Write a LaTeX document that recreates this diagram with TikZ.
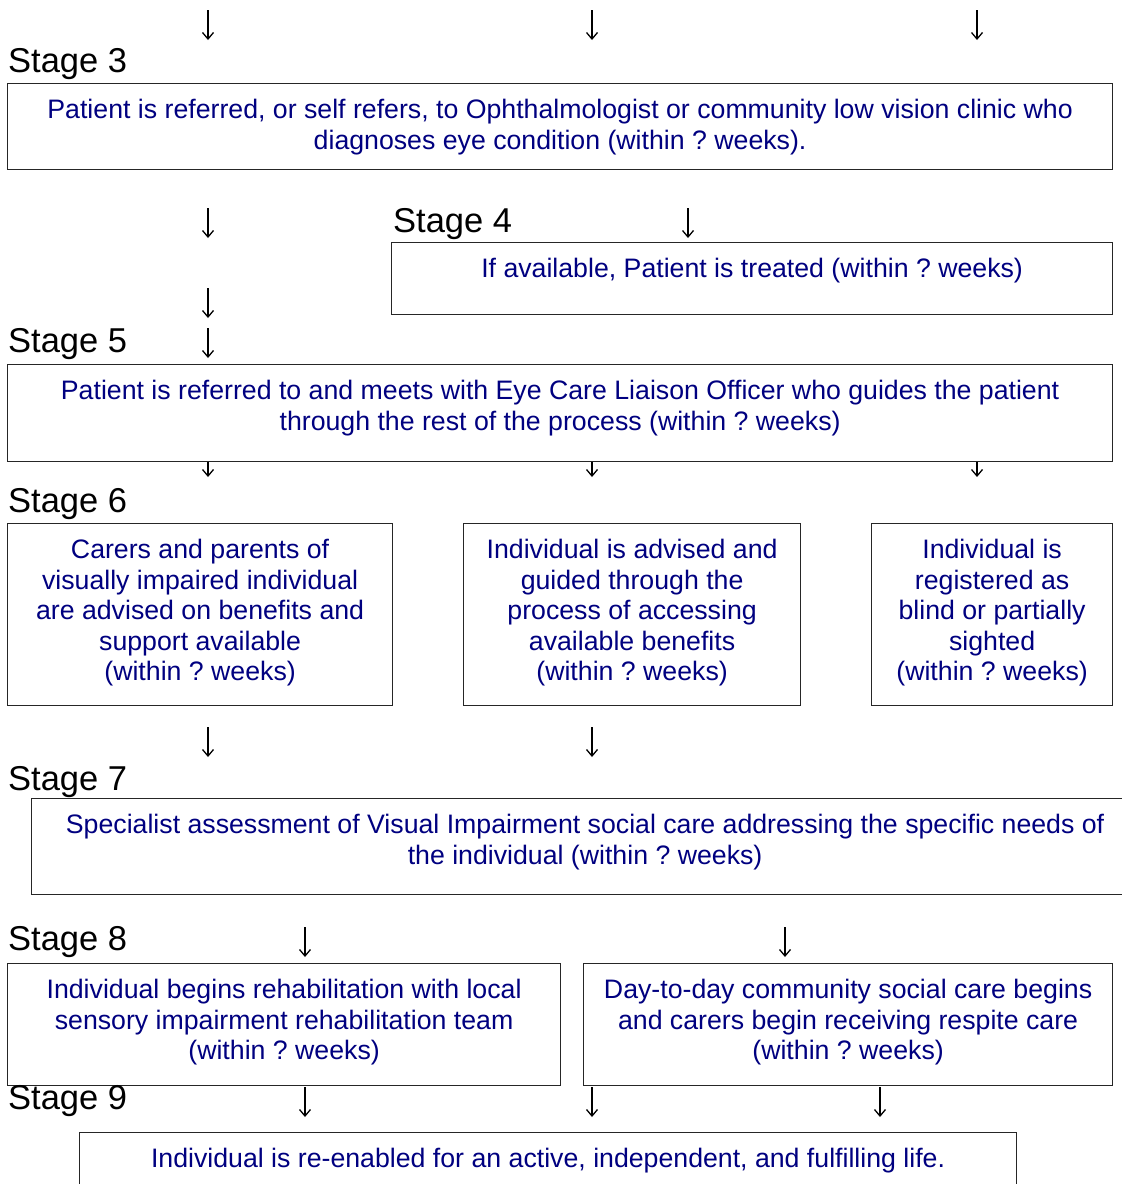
\documentclass[tikz,border=0pt]{standalone}
\usepackage{fontspec}
\setmainfont{Liberation Sans}
\usetikzlibrary{arrows.meta}
\frenchspacing
\definecolor{txtblue}{RGB}{0,0,128}
\tikzset{
  box/.style={draw=black!85, line width=1.2pt, fill=white, inner sep=0pt, anchor=north west},
  txt/.style={text=txtblue, font=\fontsize{26.7}{30.6}\selectfont, align=center, inner sep=0pt, anchor=north},
  stagelbl/.style={font=\fontsize{34.5}{38}\selectfont, inner sep=0pt, anchor=base west},
  arr/.style={-{Straight Barb[length=6.5pt,width=11pt,line width=1.3pt]}, line width=1.3pt, black}
}
\begin{document}
\begin{tikzpicture}[x=1pt,y=-1pt]
\useasboundingbox (0,0) rectangle (1122,1184);
\clip (0,0) rectangle (1122,1184);
% arrows
\foreach \nm/\x/\ya/\yb in {a1/208/10/40, a2/592/10/40, a3/977/10/40,
   a4/208/208/238, a5/688/208/238, a6/208/288/318, a7/208/328/358,
   a8/208/462/477, a9/592/462/477, a10/977/462/477,
   a11/208/727/757, a12/592/727/757,
   a13/305/927/957, a14/785/927/957,
   a15/305/1087/1117, a16/592/1087/1117, a17/880/1087/1117}{
  \coordinate (\nm s) at (\x,\ya);
  \coordinate (\nm e) at (\x,\yb);
  \draw[arr] (\nm s) -- (\nm e);
}
% Stage 3
\node[stagelbl] (l3) at (8,72) {Stage 3};
\node[box, minimum width=1105pt, minimum height=86pt] (b3) at (7,83) {};
\node[txt] (t3) at ([yshift=-16pt]b3.north) {Patient is referred, or self refers, to Ophthalmologist or community low vision clinic who\\diagnoses eye condition (within ? weeks).};
% Stage 4
\node[stagelbl] (l4) at (393,232) {Stage 4};
\node[box, minimum width=721pt, minimum height=72pt] (b4) at (391,242) {};
\node[txt] (t4) at ([yshift=-16pt]b4.north) {If available, Patient is treated (within ? weeks)};
% Stage 5
\node[stagelbl] (l5) at (8,352) {Stage 5};
\node[box, minimum width=1105pt, minimum height=97pt] (b5) at (7,364) {};
\node[txt] (t5) at ([yshift=-16pt]b5.north) {Patient is referred to and meets with Eye Care Liaison Officer who guides the patient\\through the rest of the process (within ? weeks)};
% Stage 6
\node[stagelbl] (l6) at (8,512) {Stage 6};
\node[box, minimum width=385pt, minimum height=182pt] (b6a) at (7,523) {};
\node[txt] (t6a) at ([yshift=-16pt]b6a.north) {Carers and parents of\\visually impaired individual\\are advised on benefits and\\support available\\(within ? weeks)};
\node[box, minimum width=337pt, minimum height=182pt] (b6b) at (463,523) {};
\node[txt] (t6b) at ([yshift=-16pt]b6b.north) {Individual is advised and\\guided through the\\process of accessing\\available benefits\\(within ? weeks)};
\node[box, minimum width=241pt, minimum height=182pt] (b6c) at (871,523) {};
\node[txt] (t6c) at ([yshift=-16pt]b6c.north) {Individual is\\registered as\\blind or partially\\sighted\\(within ? weeks)};
% Stage 7
\node[stagelbl] (l7) at (8,790) {Stage 7};
\node[box, minimum width=1107pt, minimum height=96pt] (b7) at (31,798) {};
\node[txt] (t7) at ([yshift=-16pt]b7.north) {Specialist assessment of Visual Impairment social care addressing the specific needs of\\the individual (within ? weeks)};
% Stage 8
\node[stagelbl] (l8) at (8,950) {Stage 8};
\node[box, minimum width=553pt, minimum height=122pt] (b8a) at (7,963) {};
\node[txt] (t8a) at ([yshift=-16pt]b8a.north) {Individual begins rehabilitation with local\\sensory impairment rehabilitation team\\(within ? weeks)};
\node[box, minimum width=529pt, minimum height=122pt] (b8b) at (583,963) {};
\node[txt] (t8b) at ([yshift=-16pt]b8b.north) {Day-to-day community social care begins\\and carers begin receiving respite care\\(within ? weeks)};
% Stage 9
\node[stagelbl] (l9) at (8,1109) {Stage 9};
\node[box, minimum width=937pt, minimum height=100pt] (b9) at (79,1132) {};
\node[txt] (t9) at ([yshift=-16pt]b9.north) {Individual is re-enabled for an active, independent, and fulfilling life.};
\end{tikzpicture}
\end{document}
